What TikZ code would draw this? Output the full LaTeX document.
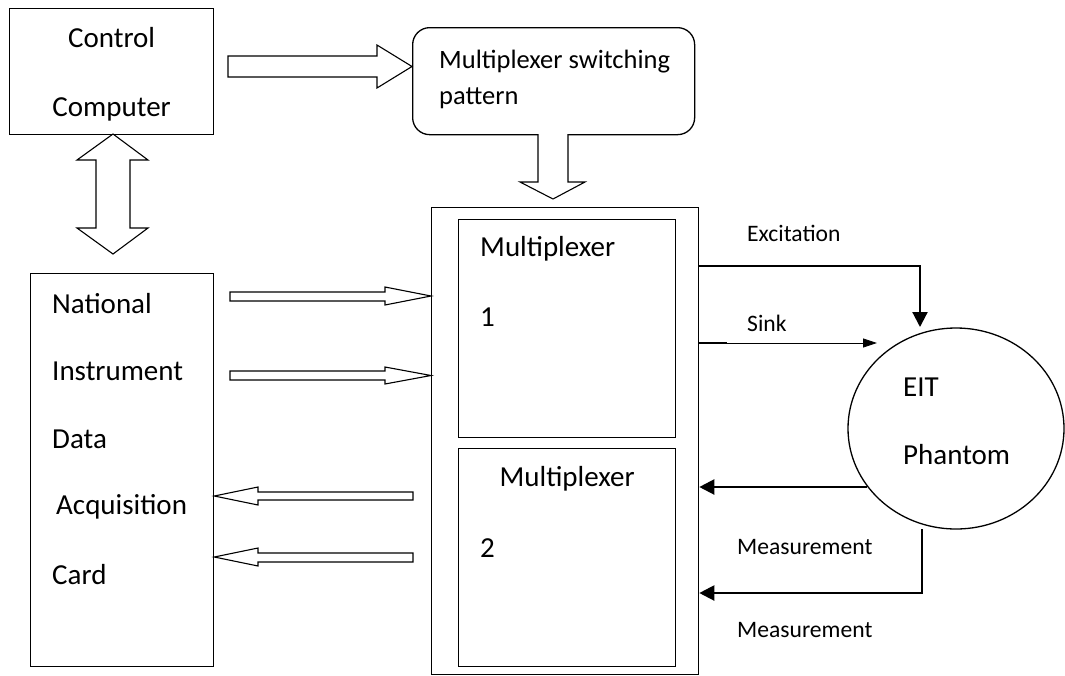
\documentclass[tikz,border=0pt]{standalone}
\usepackage{fontspec}
\setmainfont{Carlito}
\usetikzlibrary{arrows.meta,shapes.geometric}
\begin{document}
\begin{tikzpicture}[x=1pt,y=-1pt,
  box/.style={draw, line width=1.3pt, inner sep=0pt, anchor=north west},
  big/.style={font=\fontsize{29}{34}\selectfont, inner sep=0pt, anchor=west},
  mid/.style={font=\fontsize{26.5}{31}\selectfont, inner sep=0pt, anchor=west},
  small/.style={font=\fontsize{23.6}{28}\selectfont, inner sep=0pt, anchor=west},
  block/.style={draw, line width=1.1pt, fill=white, line join=miter},
  conn/.style={line width=2.2pt, -{Triangle[length=15pt,width=15pt]}},
  thinconn/.style={line width=0.8pt, -{Triangle[length=14pt,width=9pt]}}]
\useasboundingbox (0,0) rectangle (1065,675);
% boxes
\node[box, minimum width=204pt, minimum height=126pt] (ctrl) at (9,8) {};
\node[box, rounded corners=17pt, minimum width=282pt, minimum height=107pt] (pattern) at (412,27) {};
\node[box, minimum width=267pt, minimum height=467pt] (mux) at (431,207) {};
\node[box, minimum width=217pt, minimum height=218pt] (mux1) at (458,219) {};
\node[box, minimum width=217pt, minimum height=218pt] (mux2) at (458,448) {};
\node[box, minimum width=183pt, minimum height=393pt] (ni) at (30,273) {};
\node[draw, ellipse, line width=1.3pt, minimum width=216pt, minimum height=201pt, inner sep=0pt] (eit) at (956,428.5) {};
% texts
\node[big, anchor=center] (tctrl1) at (ctrl.center |- 0,38) {Control};
\node[big, anchor=center] (tctrl2) at (ctrl.center |- 0,109) {Computer};
\node[mid] (tpat1) at (439,62) {Multiplexer switching};
\node[mid] (tpat2) at (439,98) {pattern};
\node[big] (tni1) at (52,304) {National};
\node[big] (tni2) at (52,371) {Instrument};
\node[big] (tni3) at (52,439) {Data};
\node[big] (tni4) at (56,507) {Acquisition};
\node[big] (tni5) at (52,575) {Card};
\node[big] (tm1a) at (480,249) {Multiplexer};
\node[big] (tm1b) at (480,317) {1};
\node[big, anchor=center] (tm2a) at (mux2.center |- 0,479) {Multiplexer};
\node[big] (tm2b) at (480,548) {2};
\node[big] (teit1) at (903,387) {EIT};
\node[big] (teit2) at (903,455) {Phantom};
\node[small] (lexc) at (747,233) {Excitation};
\node[small] (lsink) at (747,323) {Sink};
\node[small] (lmeas1) at (737,547) {Measurement};
\node[small] (lmeas2) at (737,630) {Measurement};
% block arrows
\draw[block] (228,56) -- (377,56) -- (377,45) -- (pattern.west |- 0,66.5) -- (377,88) -- (377,77) -- (228,77) -- cycle;
\draw[block] (538,134) -- (538,182) -- (520,182) -- (553,199) -- (585,182) -- (568,182) -- (568,134);
\draw[block] (113,134) -- (148,160) -- (130,160) -- (130,228) -- (148,228) -- (113,254) -- (77,228) -- (96,228) -- (96,160) -- (77,160) -- cycle;
\draw[block] (230,292) -- (385,292) -- (385,287) -- (mux.west |- 0,296) -- (385,305) -- (385,301) -- (230,301) -- cycle;
\draw[block] (230,371) -- (385,371) -- (385,367) -- (mux.west |- 0,375.5) -- (385,384) -- (385,380) -- (230,380) -- cycle;
\draw[block] (413,492) -- (258,492) -- (258,487) -- (ni.east |- 0,496) -- (258,505) -- (258,500) -- (413,500) -- cycle;
\draw[block] (413,553) -- (258,553) -- (258,548) -- (ni.east |- 0,557) -- (258,566) -- (258,562) -- (413,562) -- cycle;
% connectors
\coordinate (excEnd) at (920,327);
\coordinate (sinkEnd) at (877,343);
\coordinate (m1Start) at (867,487);
\coordinate (m2Start) at (922,529);
\draw[conn] (mux.east |- 0,266) -| (excEnd);
\draw[line width=2pt] (mux.east |- 0,343) -- (727,343);
\draw[thinconn] (mux.east |- 0,343) -- (sinkEnd);
\draw[conn] (m1Start) -- (mux.east |- m1Start);
\draw[conn] (m2Start) |- (mux.east |- 0,593);
\end{tikzpicture}
\end{document}
